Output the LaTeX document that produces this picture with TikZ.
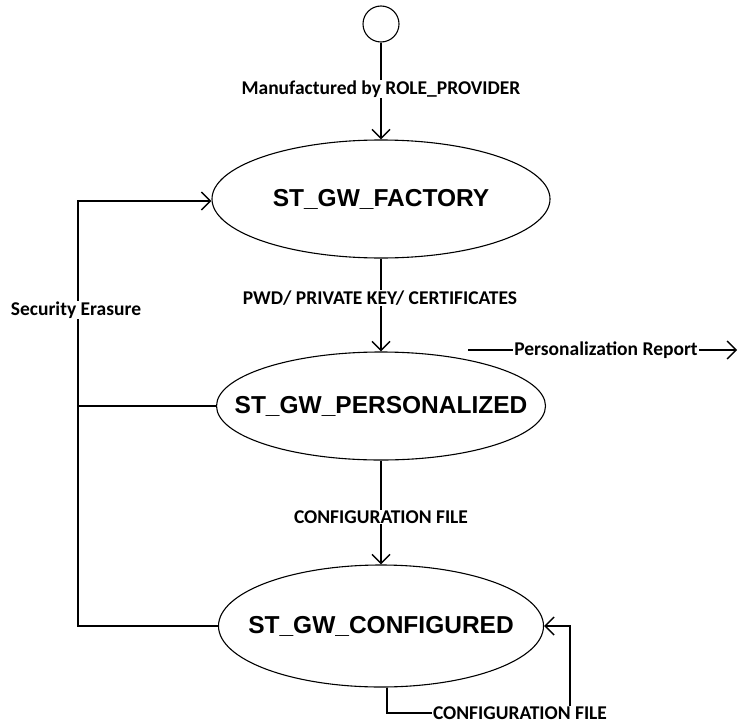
\documentclass[tikz,border=0pt]{standalone}
\usepackage{fontspec}
\setmainfont{Carlito}
\newfontfamily\statefont{Liberation Sans}
\usetikzlibrary{arrows.meta,shapes.geometric}
\tikzset{
  conn/.style={line width=1.6pt,-{Straight Barb[length=9pt,width=18pt,line width=1.4pt]}},
  plain/.style={line width=1.6pt},
  state/.style={ellipse,draw,line width=1.1pt,inner sep=0pt,font=\statefont\bfseries\fontsize{24.5}{28}\selectfont},
  lab/.style={fill=white,inner sep=1pt,font=\bfseries\fontsize{19.5}{22}\selectfont},
}
\begin{document}
\begin{tikzpicture}[x=1pt,y=-1pt]
\useasboundingbox (0,0) rectangle (738,725);
\node[circle,draw,line width=1.1pt,minimum size=36pt,inner sep=0pt] (init) at (381,24) {};
\node[state,minimum width=338pt,minimum height=118pt] (fac) at (381,199) {\makebox[0pt]{ST\_GW\_FACTORY}};
\node[state,minimum width=329pt,minimum height=108pt] (per) at (381,406) {\makebox[0pt]{ST\_GW\_PERSONALIZED}};
\node[state,minimum width=325pt,minimum height=122pt] (con) at (381,626) {\makebox[0pt]{ST\_GW\_CONFIGURED}};

\draw[conn] (init) -- (fac);
\node[lab] (l1) at (381,89) {Manufactured by ROLE\_PROVIDER};

\draw[conn] (fac) -- (per);
\node[lab] (l2) at (380,298) {PWD/ PRIVATE KEY/ CERTIFICATES};

\draw[conn] (per) -- (con);
\node[lab] (l3) at (381,517) {CONFIGURATION FILE};

\coordinate (pr1) at (468,350);
\coordinate (pr2) at (737,350);
\draw[conn] (pr1) -- (pr2);
\node[lab] (l4) at (606,350) {Personalization Report};

\coordinate (se) at (78,201);
\draw[conn] (con.west) -| (se) -- (fac.west |- se);
\draw[plain] (per.west) -- (78,406);
\node[lab] (l5) at (76,310) {Security Erasure};

\coordinate (cl1) at (570,713);
\draw[conn] ([xshift=6pt]con.south) |- (cl1) |- (con.east);
\node[lab] (l6) at (520,713) {CONFIGURATION FILE};
\end{tikzpicture}
\end{document}
